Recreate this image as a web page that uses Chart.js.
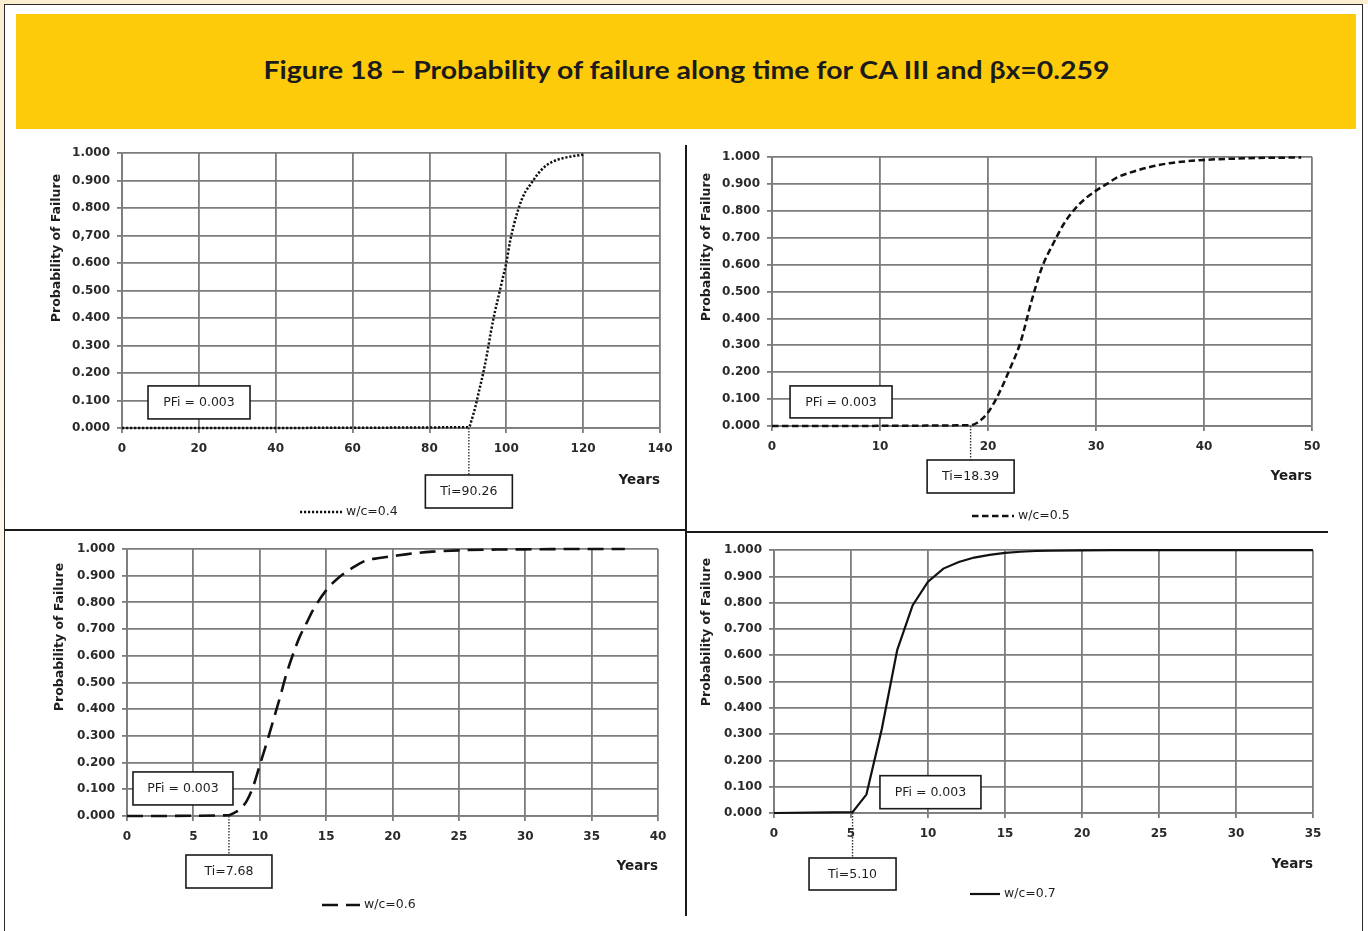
<!DOCTYPE html>
<html>
<head>
<meta charset="utf-8">
<script src="https://cdn.jsdelivr.net/npm/chart.js@4.4.1/dist/chart.umd.min.js"></script>
<style>
  html, body { margin: 0; padding: 0; width: 1368px; height: 931px; overflow: hidden; background: #fff; }
  #page { position: relative; width: 1368px; height: 931px; background: #fff; }
  .edge-top { position: absolute; left: 0; top: 0; width: 1368px; height: 4px; background: #fbeed0; }
  .edge-left { position: absolute; left: 0; top: 0; width: 4px; height: 931px; background: linear-gradient(#fbeed0, #fdf6e6 50%, #ffffff); }
  .frame { position: absolute; left: 4px; top: 4px; width: 1359px; height: 960px; border: 1px solid #2b2b2b; box-sizing: border-box; }
  .banner { position: absolute; left: 16px; top: 14px; width: 1340px; height: 115px; background: #fecb0a; }
  .banner .title { display: block; text-align: center; line-height: 111px; height: 115px; white-space: nowrap; }
  .banner .title span { display: inline-block; font-family: Lato, "DejaVu Sans", sans-serif; font-weight: 700; font-size: 24px; color: #1b1b1b; transform-origin: 50% 50%; }
  .rule { position: absolute; background: #1a1a1a; z-index: 5; }
  canvas { position: absolute; }
</style>
</head>
<body>
<div id="page">
  <div class="edge-top"></div>
  <div class="edge-left"></div>
  <div class="frame"></div>
  <div class="banner"><div class="title"><span id="figTitle">Figure 18 – Probability of failure along time for CA III and βx=0.259</span></div></div>
  <div class="rule" style="left:685px; top:145px; width:2px; height:771px;"></div>
  <div class="rule" style="left:5px; top:529px; width:681px; height:2px;"></div>
  <div class="rule" style="left:686px; top:531px; width:642px; height:2px;"></div>
  <canvas id="c0"></canvas>
  <canvas id="c1"></canvas>
  <canvas id="c2"></canvas>
  <canvas id="c3"></canvas>
</div>
<script>
// ---- Series: probability of failure vs. time (years) for each w/c ratio ----
const seriesNames = ['w/c=0.4', 'w/c=0.5', 'w/c=0.6', 'w/c=0.7'];
const initiationYears = [90.26, 18.39, 7.68, 5.10];
const initiationPf = 0.003;

const yearsWc04 = [0, 90.26, 91, 92, 93, 94, 95, 96, 97, 98, 99, 100, 101, 102, 103, 104, 105, 106, 107, 108, 110, 112, 115, 118, 120];
const pfWc04    = [0, 0.003, 0.03, 0.08, 0.14, 0.20, 0.27, 0.35, 0.42, 0.48, 0.54, 0.60, 0.68, 0.74, 0.79, 0.83, 0.86, 0.88, 0.90, 0.92, 0.95, 0.968, 0.982, 0.99, 0.994];

const yearsWc05 = [0, 18.39, 19, 20, 21, 22, 23, 24, 25, 26, 27, 28, 29, 30, 31, 32, 33, 35, 37, 40, 43, 46, 49];
const pfWc05    = [0, 0.003, 0.012, 0.05, 0.12, 0.21, 0.31, 0.46, 0.59, 0.675, 0.75, 0.805, 0.845, 0.875, 0.90, 0.925, 0.94, 0.963, 0.978, 0.989, 0.994, 0.997, 0.998];

const yearsWc06 = [0, 7.68, 8, 8.5, 9, 9.5, 10, 10.5, 11, 11.5, 12, 12.5, 13, 13.5, 14, 15, 16, 17, 18, 19, 20, 21, 22, 23, 25, 28, 31, 34, 37.5];
const pfWc06    = [0, 0.003, 0.01, 0.025, 0.055, 0.11, 0.19, 0.27, 0.355, 0.44, 0.53, 0.605, 0.67, 0.72, 0.77, 0.845, 0.895, 0.93, 0.957, 0.966, 0.973, 0.98, 0.986, 0.99, 0.995, 0.998, 0.999, 1.0, 1.0];

const yearsWc07 = [0, 5.10, 6, 7, 8, 9, 10, 11, 12, 13, 14, 15, 16, 17, 18, 20, 22, 25, 30, 35];
const pfWc07    = [0, 0.003, 0.07, 0.32, 0.62, 0.79, 0.88, 0.93, 0.955, 0.972, 0.982, 0.99, 0.994, 0.997, 0.998, 0.999, 1.0, 1.0, 1.0, 1.0];

const seriesYears = [yearsWc04, yearsWc05, yearsWc06, yearsWc07];
const seriesPf = [pfWc04, pfWc05, pfWc06, pfWc07];

// ---- Axis ticks ----
const yearTicks04 = [0, 20, 40, 60, 80, 100, 120, 140];
const yearTicks05 = [0, 10, 20, 30, 40, 50];
const yearTicks06 = [0, 5, 10, 15, 20, 25, 30, 35, 40];
const yearTicks07 = [0, 5, 10, 15, 20, 25, 30, 35];
const yearTicks = [yearTicks04, yearTicks05, yearTicks06, yearTicks07];

const pfTickValues = [0, 0.1, 0.2, 0.3, 0.4, 0.5, 0.6, 0.7, 0.8, 0.9, 1.0];
const pfTickLabelsWc04 = ['0.000', '0.100', '0.200', '0.300', '0.400', '0.500', '0.600', '0,700', '0.800', '0.900', '1.000'];
const pfTickLabels = ['0.000', '0.100', '0.200', '0.300', '0.400', '0.500', '0.600', '0.700', '0.800', '0.900', '1.000'];
const pfTickSets = [pfTickLabelsWc04, pfTickLabels, pfTickLabels, pfTickLabels];

// ---- Panel geometry (page pixels) and line styles ----
const panels = [
  { canvas: [20, 135, 664, 393], plot: [122, 153, 660, 428], yTitle: [57, 248], yearsY: 480,
    legend: [300, 342, 512], pfBox: { at: [6.77, 0.153], size: [102, 33] }, tiBox: { drop: 47, size: [87, 33] },
    line: { width: 2.5, dash: [2.2, 1.8], smooth: true } },
  { canvas: [688, 135, 670, 393], plot: [772, 157, 1312, 426], yTitle: [707, 247], yearsY: 476,
    legend: [972, 1014, 516], pfBox: { at: [1.67, 0.149], size: [102, 32] }, tiBox: { drop: 34, size: [87, 33] },
    line: { width: 2.5, dash: [6.5, 3.5], smooth: true } },
  { canvas: [20, 534, 664, 388], plot: [127, 549, 658, 816], yTitle: [60, 637], yearsY: 866,
    legend: [322, 360, 905], pfBox: { at: [0.45, 0.165], size: [100, 33] }, tiBox: { drop: 39, size: [86, 33] },
    line: { width: 2.6, dash: [16, 8], smooth: true } },
  { canvas: [688, 536, 670, 386], plot: [774, 545, 1313, 813], yTitle: [707, 632], yearsY: 864,
    legend: [970, 1000, 894], pfBox: { at: [6.88, 0.142], size: [101, 33] }, tiBox: { drop: 45, size: [87, 32] },
    line: { width: 2.2, dash: [], smooth: false } }
];

const gridColor = '#7c7c7c';
const inkColor = '#111111';
const labelFont = '"DejaVu Sans", sans-serif';

// Draws the axis caption, legend, PFi note and the initiation-time callout
const panelDecor = {
  id: 'panelDecor',
  afterDraw(chart, args, o) {
    const ctx = chart.ctx;
    const xs = chart.scales.x, ys = chart.scales.y;
    const ox = o.origin[0], oy = o.origin[1];
    const ds = chart.data.datasets[0];

    // vertical axis caption
    ctx.save();
    ctx.translate(o.yTitle[0] - ox, o.yTitle[1] - oy);
    ctx.rotate(-Math.PI / 2);
    ctx.font = 'bold 12.5px ' + labelFont;
    ctx.fillStyle = '#1e1e1e';
    ctx.textAlign = 'center';
    ctx.textBaseline = 'middle';
    ctx.fillText('Probability of Failure', 0, 0);
    ctx.restore();

    // legend
    ctx.save();
    const ly = o.legend[2] - oy;
    ctx.strokeStyle = inkColor;
    ctx.lineWidth = ds.borderWidth;
    ctx.setLineDash(ds.borderDash || []);
    ctx.beginPath();
    ctx.moveTo(o.legend[0] - ox, ly);
    ctx.lineTo(o.legend[1] - ox, ly);
    ctx.stroke();
    ctx.setLineDash([]);
    ctx.font = '12.5px ' + labelFont;
    ctx.fillStyle = '#1e1e1e';
    ctx.textAlign = 'left';
    ctx.textBaseline = 'middle';
    ctx.fillText(ds.label, o.legend[1] - ox + 4, ly);
    ctx.restore();

    const drawBox = (x, y, w, h, text) => {
      ctx.save();
      ctx.fillStyle = '#ffffff';
      ctx.fillRect(x, y, w, h);
      ctx.strokeStyle = '#1a1a1a';
      ctx.lineWidth = 1.6;
      ctx.strokeRect(x, y, w, h);
      ctx.font = '12.5px ' + labelFont;
      ctx.fillStyle = '#1e1e1e';
      ctx.textAlign = 'center';
      ctx.textBaseline = 'middle';
      ctx.fillText(text, x + w / 2, y + h / 2 + 0.5);
      ctx.restore();
    };

    // PFi note
    const px = xs.getPixelForValue(o.pfBox.at[0]);
    const py = ys.getPixelForValue(o.pfBox.at[1]);
    drawBox(px, py, o.pfBox.size[0], o.pfBox.size[1], 'PFi = ' + o.pf.toFixed(3));

    // initiation time callout
    const tx = xs.getPixelForValue(o.ti);
    const base = ys.getPixelForValue(0);
    const top = base + o.tiBox.drop;
    ctx.save();
    ctx.strokeStyle = '#333';
    ctx.lineWidth = 1.4;
    ctx.setLineDash([1.5, 1.5]);
    ctx.beginPath();
    ctx.moveTo(tx, base);
    ctx.lineTo(tx, top);
    ctx.stroke();
    ctx.restore();
    drawBox(tx - o.tiBox.size[0] / 2, top, o.tiBox.size[0], o.tiBox.size[1], 'Ti=' + o.ti.toFixed(2));
  }
};

function buildPanel(i) {
  const P = panels[i];
  const [cx, cy, cw, ch] = P.canvas;
  const [pl, pt, pr, pb] = P.plot;
  const yAxisW = 60;
  const yearsSize = 13.5;
  const xAxisH = P.yearsY + yearsSize * 1.2 / 2 - pb;

  const canvas = document.getElementById('c' + i);
  canvas.width = cw; canvas.height = ch;
  canvas.style.left = cx + 'px'; canvas.style.top = cy + 'px';
  canvas.style.width = cw + 'px'; canvas.style.height = ch + 'px';

  const points = seriesYears[i].map((x, k) => ({ x: x, y: seriesPf[i][k] }));
  const xTicks = yearTicks[i];
  const yLabels = pfTickSets[i];

  return new Chart(canvas, {
    type: 'line',
    data: {
      datasets: [{
        label: seriesNames[i],
        data: points,
        borderColor: inkColor,
        borderWidth: P.line.width,
        borderDash: P.line.dash,
        pointRadius: 0,
        fill: false,
        clip: false,
        cubicInterpolationMode: P.line.smooth ? 'monotone' : 'default',
        tension: 0
      }]
    },
    options: {
      responsive: false,
      animation: false,
      devicePixelRatio: 1,
      layout: {
        padding: { left: pl - cx - yAxisW, top: pt - cy, right: cx + cw - pr, bottom: cy + ch - pb - xAxisH }
      },
      plugins: {
        legend: { display: false },
        tooltip: { enabled: false },
        panelDecor: {
          origin: [cx, cy], yTitle: P.yTitle, legend: P.legend,
          pfBox: P.pfBox, tiBox: P.tiBox, ti: initiationYears[i], pf: initiationPf
        }
      },
      scales: {
        x: {
          type: 'linear',
          min: xTicks[0], max: xTicks[xTicks.length - 1],
          afterBuildTicks: s => { s.ticks = xTicks.map(v => ({ value: v })); },
          afterFit: s => { s.height = xAxisH; },
          grid: { color: gridColor, lineWidth: 1.8, tickLength: 5 },
          border: { color: gridColor, width: 1.8 },
          ticks: { color: '#2a2a2a', padding: 8.5, maxRotation: 0, autoSkip: false,
                   font: { family: labelFont, size: 12, weight: 'bold' } },
          title: { display: true, text: 'Years', align: 'end', padding: 0, color: '#1e1e1e',
                   font: { family: labelFont, size: yearsSize, weight: 'bold' } }
        },
        y: {
          type: 'linear',
          min: 0, max: 1,
          afterBuildTicks: s => { s.ticks = pfTickValues.map(v => ({ value: v })); },
          afterFit: s => { s.width = yAxisW; },
          grid: { color: gridColor, lineWidth: 1.8, tickLength: 5 },
          border: { color: gridColor, width: 1.8 },
          ticks: { color: '#2a2a2a', padding: 7, autoSkip: false,
                   font: { family: labelFont, size: 12, weight: 'bold' },
                   callback: (v, idx) => yLabels[idx] }
        }
      }
    },
    plugins: [panelDecor]
  });
}

// fit the heading to its width in the banner
(function () {
  const t = document.getElementById('figTitle');
  const w = t.getBoundingClientRect().width;
  t.style.transform = 'scaleX(' + (846 / w).toFixed(4) + ')';
})();

for (let i = 0; i < 4; i++) buildPanel(i);
</script>
</body>
</html>
